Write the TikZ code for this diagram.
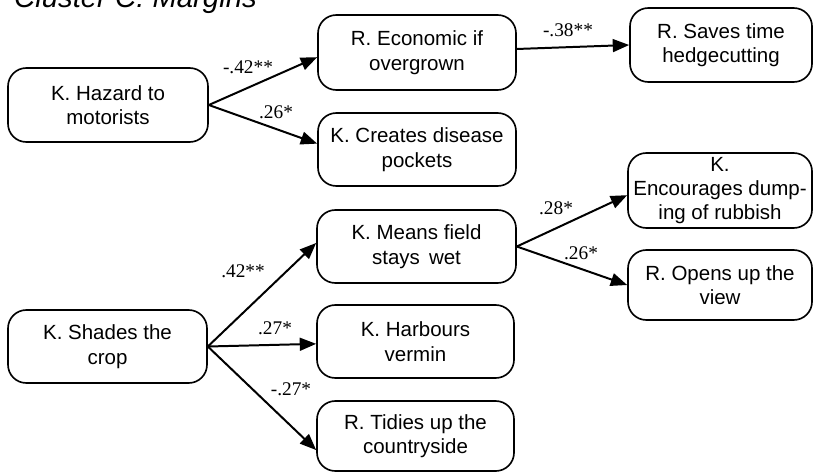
\documentclass[tikz,border=0pt]{standalone}
\usepackage{fontspec}
\setmainfont{Liberation Serif}
\setsansfont{Liberation Sans}
\usetikzlibrary{arrows.meta}
\begin{document}
\begin{tikzpicture}[x=0.03cm,y=-0.03cm,
  box/.style={draw, line width=1.4pt, rounded corners=0.55cm, align=center,
    inner sep=0pt, font=\sffamily\fontsize{17.5}{21}\selectfont},
  link/.style={line width=1.7pt, -{Triangle[length=14pt,width=11pt]}},
  coef/.style={font=\fontsize{16.5}{16.5}\selectfont, inner sep=1pt}]
\useasboundingbox (0,0) rectangle (815,472);

% heading (partly outside the page)
\node[anchor=base west, inner sep=0pt,
  font=\sffamily\itshape\fontsize{25}{25}\selectfont] (title) at (14,7) {Cluster C: Margins};

% statements
\node[box, minimum width=6cm,  minimum height=2.22cm] (haz)   at (108,105)   {K. Hazard to\\motorists};
\node[box, minimum width=5.94cm, minimum height=2.25cm] (eco) at (417,52.5)  {R. Economic if\\overgrown};
\node[box, minimum width=5.46cm, minimum height=2.22cm] (save) at (721,45)   {R. Saves time\\hedgecutting};
\node[box, minimum width=5.94cm, minimum height=2.19cm] (dis) at (417,149.5) {K. Creates disease\\pockets};
\node[box, minimum width=5.52cm, minimum height=2.25cm,
  font=\sffamily\fontsize{17.5}{20.5}\selectfont] (enc) at (720,190.5) {K.\\Encourages dump-\\ing of rubbish};
\node[box, minimum width=5.97cm, minimum height=2.19cm] (wet) at (416.5,246.5) {K. Means field\\stays\, wet};
\node[box, minimum width=5.52cm, minimum height=2.1cm]  (view) at (720,285)  {R. Opens up the\\view};
\node[box, minimum width=5.97cm, minimum height=2.19cm] (shade) at (107.5,346.5) {K. Shades the\\crop};
\node[box, minimum width=5.91cm, minimum height=2.19cm] (harb) at (415.5,341.5) {K. Harbours\\vermin};
\node[box, minimum width=5.91cm, minimum height=2.1cm]  (tidy) at (415.5,436)  {R. Tidies up the\\countryside};

% links with correlation coefficients
\draw[link] (haz.east) -- ([yshift=-4pt]eco.west);
\draw[link] (haz.east) -- ([yshift=5pt]dis.west);
\draw[link] ([yshift=3pt]eco.east) -- (save.west);
\draw[link] (wet.east) -- ([yshift=-4pt]enc.west);
\draw[link] (wet.east) -- (view.west);
\draw[link] (shade.east) -- ([yshift=3pt]wet.west);
\draw[link] (shade.east) -- ([yshift=-2pt]harb.west);
\draw[link] (shade.east) -- ([yshift=-12pt]tidy.west);

\node[coef] (c1) at (248,67)  {-.42**};
\node[coef] (c2) at (276,112) {.26*};
\node[coef] (c3) at (568,30)  {-.38**};
\node[coef] (c4) at (556,208) {.28*};
\node[coef] (c5) at (581,253) {.26*};
\node[coef] (c6) at (243,271) {.42**};
\node[coef] (c7) at (275,328) {.27*};
\node[coef] (c8) at (291,389) {-.27*};
\end{tikzpicture}
\end{document}
